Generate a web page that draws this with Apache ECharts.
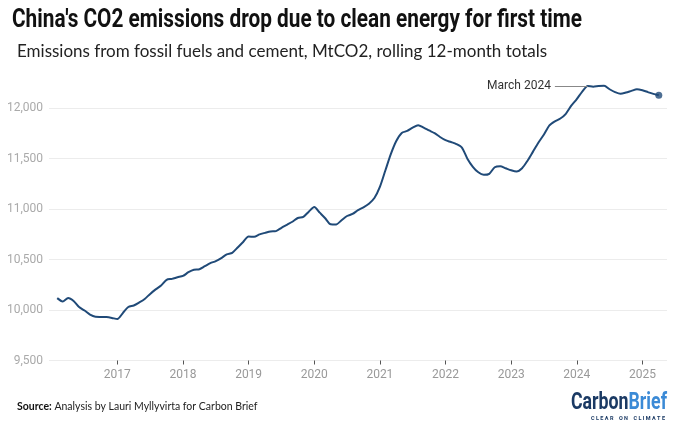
<!DOCTYPE html>
<html>
<head>
<meta charset="utf-8">
<script src="https://cdn.jsdelivr.net/npm/echarts@6/dist/echarts.min.js"></script>
<style>
  html, body { margin: 0; padding: 0; background: #fff; }
  #chart { width: 680px; height: 435px; }
</style>
</head>
<body>
<div id="chart"></div>
<script>
// axis runs Jan 2016 .. May 2025, data Feb 2016 .. Apr 2025
const firstMonth = '2016-02';
const yearTicks = ['2017', '2018', '2019', '2020', '2021', '2022', '2023', '2024', '2025'];

// MtCO2, rolling 12-month totals, one value per month from Feb 2016
const emissions = [
    10118, 10085, 10120, 10090, 10030, 9995, 9955, 9934, 9932, 9930, 9922,   // 2016 Feb-Dec
    9911, 9970, 10030, 10045, 10075, 10110, 10160, 10205, 10243, 10300, 10309, 10325, // 2017
    10338, 10375, 10400, 10405, 10435, 10465, 10485, 10515, 10552, 10567, 10620, 10675, // 2018
    10728, 10727, 10750, 10765, 10779, 10782, 10815, 10845, 10875, 10912, 10923, 10975, // 2019
    11020, 10965, 10910, 10850, 10848, 10890, 10932, 10952, 10990, 11018, 11054, 11110, // 2020
    11220, 11383, 11545, 11675, 11755, 11775, 11808, 11832, 11808, 11780, 11753, 11715, // 2021
    11683, 11665, 11645, 11610, 11500, 11420, 11365, 11340, 11350, 11415, 11425, 11405, // 2022
    11385, 11373, 11405, 11480, 11570, 11660, 11740, 11830, 11870, 11898, 11945, 12025, // 2023
    12090, 12165, 12220, 12214, 12220, 12222, 12188, 12160, 12143, 12155, 12172, 12188, // 2024
    12178, 12160, 12142, 12128                                                   // 2025 Jan-Apr
];

const annotationText = 'March 2024';
const annotationMonth = '2024-03';
const annotationFrom = '2023-09';

// build the monthly categories for the axis
const months = [];
for (let y = 2016; y <= 2025; y++) {
    for (let m = 1; m <= 12; m++) {
        if (y === 2025 && m > 5) break;
        months.push(y + '-' + String(m).padStart(2, '0'));
    }
}
const startIdx = months.indexOf(firstMonth);
const lineData = months.map((m, i) => {
    const v = emissions[i - startIdx];
    return v === undefined ? null : v;
});
const lastMonth = months[startIdx + emissions.length - 1];
const lastValue = emissions[emissions.length - 1];
const annotationValue = emissions[months.indexOf(annotationMonth) - startIdx];

const isYearStart = (i, v) => yearTicks.includes(v.slice(0, 4)) && v.endsWith('-01');

// no condensed font installed, so squeeze a normal one to the target width
const measureCtx = document.createElement('canvas').getContext('2d');
function squeeze(text, font, width) {
    measureCtx.font = font;
    return width / measureCtx.measureText(text).width;
}

const LINE = '#204a78';
const TITLE = "China's CO2 emissions drop due to clean energy for first time";
const titleFont = 'bold 26px Roboto';
const logoFont = 'bold 24px Roboto';
const tagFont = 'bold 5px Roboto';
const tagText = 'C L E A R    O N    C L I M A T E';

const chart = echarts.init(document.getElementById('chart'), null, { renderer: 'canvas' });

const option = {
    animation: false,
    title: [
        {
            text: 'Emissions from fossil fuels and cement, MtCO2, rolling 12-month totals',
            left: 12, top: 38,
            textStyle: { fontFamily: 'Lato', fontWeight: 'normal', fontSize: 17, color: '#222' }
        },
        {
            text: '{b|Source:} Analysis by Lauri Myllyvirta for Carbon Brief',
            left: 12, top: 396,
            textStyle: {
                fontFamily: 'Lato', fontSize: 10.5, color: '#222', fontWeight: 'normal',
                rich: { b: { fontFamily: 'Lato', fontSize: 10.5, fontWeight: 'bold', color: '#111' } }
            }
        }
    ],
    graphic: [
        {
            type: 'text', x: 12, y: 7,
            scaleX: squeeze(TITLE, titleFont, 570),
            style: { text: TITLE, font: titleFont, fill: '#111', textVerticalAlign: 'top' }
        },
        {
            type: 'text', x: 571, y: 391,
            scaleX: squeeze('CarbonBrief', logoFont, 96),
            style: {
                text: '{c|Carbon}{b|Brief}',
                textVerticalAlign: 'top',
                rich: {
                    c: { font: logoFont, fill: '#1b3a64' },
                    b: { font: logoFont, fill: '#3b8ad6' }
                }
            }
        },
        {
            type: 'text', x: 591, y: 416,
            scaleX: squeeze(tagText, tagFont, 74),
            style: { text: tagText, font: tagFont, fill: '#1b3a64', textVerticalAlign: 'top' }
        }
    ],
    grid: { left: 49, right: 13, top: 83, bottom: 74.5 },
    xAxis: {
        type: 'category',
        data: months,
        boundaryGap: true,
        axisLine: { show: false },
        axisTick: {
            show: true, alignWithLabel: true, length: 4,
            interval: isYearStart,
            lineStyle: { color: '#555', width: 1 }
        },
        axisLabel: {
            interval: isYearStart,
            formatter: v => v.slice(0, 4),
            color: '#999', fontFamily: 'Roboto', fontSize: 12, margin: 8
        },
        splitLine: { show: false }
    },
    yAxis: {
        type: 'value',
        min: 9500, max: 12250, interval: 500,
        axisLine: { show: false },
        axisTick: { show: false },
        axisLabel: {
            showMaxLabel: false,
            formatter: v => v.toLocaleString('en-US'),
            color: '#aaa', fontFamily: 'Roboto', fontSize: 12, margin: 6
        },
        splitLine: { show: true, showMaxLine: false, lineStyle: { color: '#ececec', width: 1 } }
    },
    series: [
        {
            type: 'line',
            data: lineData,
            smooth: 0.25,
            symbol: 'none',
            lineStyle: { color: LINE, width: 2 },
            markLine: {
                silent: true,
                symbol: 'none',
                lineStyle: { color: '#888', width: 1, type: 'solid' },
                label: {
                    show: true, position: 'start', formatter: annotationText,
                    color: '#333', fontFamily: 'Roboto', fontSize: 12, distance: 4
                },
                data: [[
                    { coord: [annotationFrom, annotationValue] },
                    { coord: [annotationMonth, annotationValue] }
                ]]
            }
        },
        {
            type: 'scatter',
            data: [[lastMonth, lastValue]],
            symbol: 'circle',
            symbolSize: 7,
            itemStyle: { color: LINE }
        }
    ]
};

chart.setOption(option);
</script>
</body>
</html>
